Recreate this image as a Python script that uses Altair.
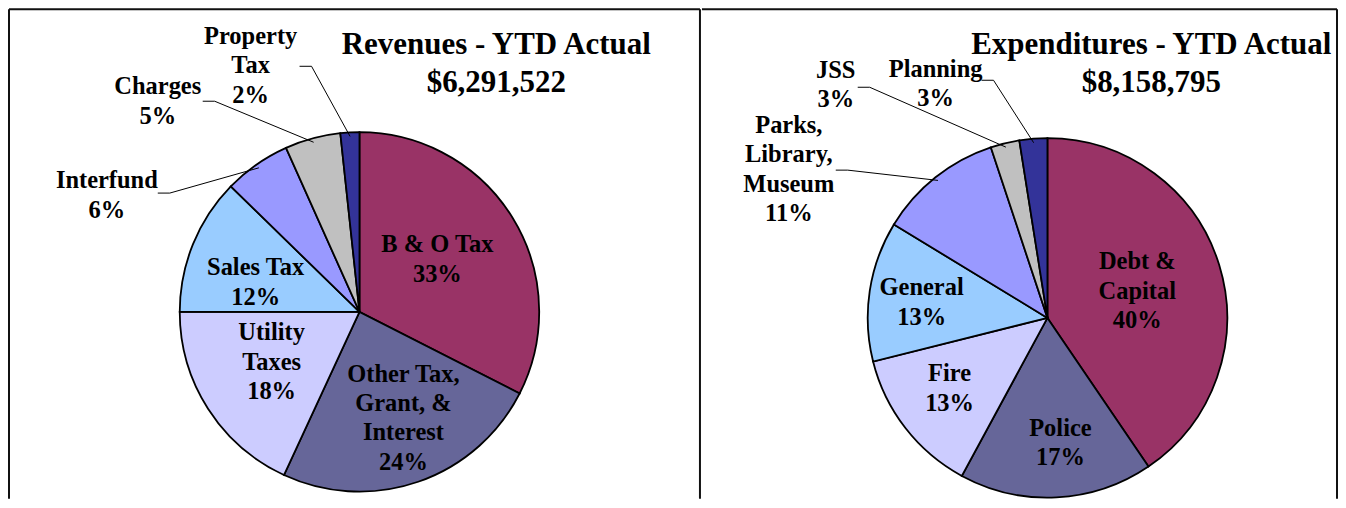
import math
import altair as alt
import pandas as pd

# ---------------- data ----------------
rev_cats = ["B & O Tax", "Other Tax, Grant, & Interest", "Utility Taxes", "Sales Tax",
            "Interfund", "Charges", "Property Tax"]
rev_vals = [32.5, 24.4, 18.1, 12.3, 6.0, 5.0, 1.7]
rev_labels = ["B & O Tax\n33%", "Other Tax,\nGrant, &\nInterest\n24%", "Utility\nTaxes\n18%",
              "Sales Tax\n12%", "Interfund\n6%", "Charges\n5%", "Property\nTax\n2%"]
rev_title = "Revenues - YTD Actual\n$6,291,522"

exp_cats = ["Debt & Capital", "Police", "Fire", "General", "Parks, Library, Museum", "JSS", "Planning"]
exp_vals = [40.5, 17.4, 13.2, 12.6, 11.2, 2.6, 2.5]
exp_labels = ["Debt &\nCapital\n40%", "Police\n17%", "Fire\n13%", "General\n13%",
              "Parks,\nLibrary,\nMuseum\n11%", "JSS\n3%", "Planning\n3%"]
exp_title = "Expenditures - YTD Actual\n$8,158,795"

palette = ["#993366", "#666699", "#CCCCFF", "#99CCFF", "#9999FF", "#C0C0C0", "#333399"]

# ---------------- layout (style, not data) ----------------
FONT = "Liberation Serif"
R = 180
LEFT_W, RIGHT_W, H = 692, 636, 490
LABEL_FS, LABEL_LH = 24.5, 29.5
TITLE_FS, TITLE_LH = 31, 38

left_layout = dict(
    center=(351, 303),
    label_off=[(78, -52), (44, 107), (-88, 51), (-104, -29), (-253, -116), (-202, -210), (-109, -246)],
    leader_start={4: (-202, -119), 5: (-157, -211), 6: (-60, -246)},
    title_pos=(488, 55),
)
right_layout = dict(
    center=(346, 309),
    label_off=[(90, -26), (13, 126), (-98, 71), (-126, -15), (-259, -148), (-212, -233), (-112, -234)],
    leader_start={4: (-212, -148), 5: (-190, -231), 6: (-66, -238)},
    title_pos=(450, 55),
)


def first_line_y(center_y, text, lh):
    n = text.count("\n") + 1
    return center_y - (n - 1) * lh / 2


def panel(cats, vals, labels, title, layout, width, borders):
    cx, cy = layout["center"]
    total = sum(vals)
    arc_df = pd.DataFrame({"cat": cats, "value": vals, "idx": list(range(len(cats))),
                           "color": palette[:len(cats)]})
    arcs = alt.Chart(arc_df).mark_arc(radius=R, stroke="black", strokeWidth=1.8).encode(
        theta=alt.Theta("value:Q", stack=True),
        order=alt.Order("idx:Q", sort="ascending"),
        color=alt.Color("color:N", scale=None, legend=None),
        x=alt.value(cx), y=alt.value(cy),
    )

    lab_df = pd.DataFrame({
        "text": labels,
        "px": [cx + dx for dx, dy in layout["label_off"]],
        "py": [first_line_y(cy + dy, t, LABEL_LH) for (dx, dy), t in zip(layout["label_off"], labels)],
    })
    texts = alt.Chart(lab_df).mark_text(
        font=FONT, fontWeight="bold", fontSize=LABEL_FS, lineHeight=LABEL_LH, lineBreak="\n",
        align="center", baseline="middle", color="black",
    ).encode(
        x=alt.X("px:Q", scale=None, axis=None),
        y=alt.Y("py:Q", scale=None, axis=None),
        text="text:N",
    )

    # leader lines: from label to the slice's mid-angle at the rim
    rows = []
    cum = 0.0
    mids = []
    for v in vals:
        mids.append((cum + v / 2) / total * 2 * math.pi)
        cum += v
    for i, (sx, sy) in layout["leader_start"].items():
        a = mids[i]
        ex = cx + (R - 4) * math.sin(a)
        ey = cy - (R - 4) * math.cos(a)
        rows += [
            {"k": i, "o": 0, "px": cx + sx, "py": cy + sy},
            {"k": i, "o": 1, "px": cx + sx + 12, "py": cy + sy},
            {"k": i, "o": 2, "px": ex, "py": ey},
        ]
    lead_df = pd.DataFrame(rows)
    leaders = alt.Chart(lead_df).mark_line(color="black", strokeWidth=1).encode(
        x=alt.X("px:Q", scale=None, axis=None),
        y=alt.Y("py:Q", scale=None, axis=None),
        detail="k:N",
        order="o:Q",
    )

    tx, ty = layout["title_pos"]
    title_df = pd.DataFrame({"text": [title], "px": [tx], "py": [first_line_y(ty, title, TITLE_LH)]})
    ttl = alt.Chart(title_df).mark_text(
        font=FONT, fontWeight="bold", fontSize=TITLE_FS, lineHeight=TITLE_LH, lineBreak="\n",
        align="center", baseline="middle", color="black",
    ).encode(
        x=alt.X("px:Q", scale=None, axis=None),
        y=alt.Y("py:Q", scale=None, axis=None),
        text="text:N",
    )

    # panel frame (top edge plus the requested vertical edges)
    frame_layers = [
        alt.Chart(pd.DataFrame({"k": ["top"]})).mark_rule(color="#111111", strokeWidth=2).encode(
            x=alt.value(0), x2=alt.value(width), y=alt.value(0))
    ]
    for bx in borders:
        frame_layers.append(
            alt.Chart(pd.DataFrame({"k": [str(bx)]})).mark_rule(color="#111111", strokeWidth=2).encode(
                x=alt.value(bx), y=alt.value(0), y2=alt.value(H))
        )
    return alt.layer(arcs, leaders, texts, ttl, *frame_layers).properties(width=width, height=H)


left = panel(rev_cats, rev_vals, rev_labels, rev_title, left_layout, LEFT_W, [0, LEFT_W])
right = panel(exp_cats, exp_vals, exp_labels, exp_title, right_layout, RIGHT_W, [RIGHT_W])

chart = alt.hconcat(left, right, spacing=0).properties(padding=0).configure_view(
    strokeWidth=0
)

chart.save("out.html", embed_options={"renderer": "svg", "actions": False})
